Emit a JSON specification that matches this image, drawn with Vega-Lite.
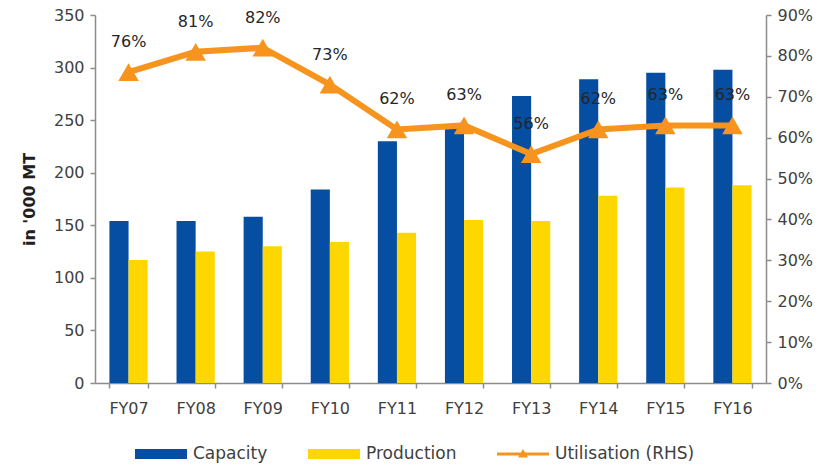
{
  "$schema": "https://vega.github.io/schema/vega-lite/v6.json",
  "width": 671,
  "height": 368,
  "autosize": {"type": "none"},
  "padding": {"left": 95, "top": 15, "right": 69, "bottom": 83},
  "background": "white",
  "config": {
    "view": {"stroke": null},
    "font": "DejaVu Sans",
    "axis": {
      "labelFont": "DejaVu Sans",
      "labelFontSize": 16,
      "labelColor": "#404040",
      "domainColor": "#8c8c8c",
      "domainWidth": 1.5,
      "tickColor": "#8c8c8c",
      "tickWidth": 1.5,
      "tickSize": 5,
      "grid": false
    },
    "legend": {
      "labelFont": "DejaVu Sans",
      "labelFontSize": 17,
      "labelColor": "#404040"
    }
  },
  "data": {
    "values": [
      {"fy": "FY07", "Capacity": 154, "Production": 117, "util": 0.76},
      {"fy": "FY08", "Capacity": 154, "Production": 125, "util": 0.81},
      {"fy": "FY09", "Capacity": 158, "Production": 130, "util": 0.82},
      {"fy": "FY10", "Capacity": 184, "Production": 134, "util": 0.73},
      {"fy": "FY11", "Capacity": 230, "Production": 143, "util": 0.62},
      {"fy": "FY12", "Capacity": 245, "Production": 155, "util": 0.63},
      {"fy": "FY13", "Capacity": 273, "Production": 154, "util": 0.56},
      {"fy": "FY14", "Capacity": 289, "Production": 178, "util": 0.62},
      {"fy": "FY15", "Capacity": 295, "Production": 186, "util": 0.63},
      {"fy": "FY16", "Capacity": 298, "Production": 188, "util": 0.63}
    ]
  },
  "encoding": {
    "x": {
      "field": "fy",
      "type": "nominal",
      "sort": null,
      "scale": {"paddingInner": 0.43, "paddingOuter": 0.215},
      "axis": {"title": null, "labelAngle": 0, "labelPadding": 12, "tickBand": "extent", "labelColor": "#404040"}
    }
  },
  "layer": [
    {
      "transform": [{"fold": ["Capacity", "Production"], "as": ["series", "value"]}],
      "mark": {"type": "bar"},
      "encoding": {
        "xOffset": {"field": "series", "type": "nominal", "scale": {"paddingInner": 0, "paddingOuter": 0}},
        "y": {
          "field": "value",
          "type": "quantitative",
          "scale": {"domain": [0, 350]},
          "axis": {
            "title": "in '000 MT",
            "titleFont": "DejaVu Sans",
            "titleFontSize": 16,
            "titleFontWeight": "bold",
            "titleColor": "#202020",
            "titlePadding": 16,
            "values": [0, 50, 100, 150, 200, 250, 300, 350],
            "labelPadding": 6
          }
        },
        "color": {
          "field": "series",
          "type": "nominal",
          "scale": {
            "domain": ["Capacity", "Production", "Utilisation (RHS)"],
            "range": ["#054EA2", "#FFD700", "#F7941D"]
          },
          "legend": {
            "title": null,
            "orient": "none",
            "legendX": 56,
            "legendY": 429,
            "direction": "horizontal",
            "columns": 3,
            "columnPadding": 40,
            "labelOffset": 22,
            "symbolSize": 400,
            "symbolStrokeWidth": 0,
            "encode": {
              "symbols": {
                "update": {
                  "shape": {"signal": "datum.value === 'Utilisation (RHS)' ? 'M-2.6,-0.15H2.6V0.15H-2.6Z M-0.5,0.35L0,-0.5L0.5,0.35Z' : 'M-2.6,-0.5H2.6V0.5H-2.6Z'"},
                  "strokeWidth": {"value": 0}
                }
              }
            }
          }
        }
      }
    },
    {
      "layer": [
        {
          "mark": {"type": "line", "strokeWidth": 6, "color": "#F7941D"},
          "encoding": {
            "y": {
              "field": "util",
              "type": "quantitative",
              "scale": {"domain": [0, 0.9]},
              "axis": {
                "orient": "right",
                "title": null,
                "format": ".0%",
                "values": [0, 0.1, 0.2, 0.3, 0.4, 0.5, 0.6, 0.7, 0.8, 0.9],
                "labelPadding": 6
              }
            }
          }
        },
        {
          "mark": {"type": "point", "shape": "triangle-up", "filled": true, "opacity": 1, "size": 420, "color": "#F7941D"},
          "encoding": {"y": {"field": "util", "type": "quantitative"}}
        },
        {
          "mark": {"type": "text", "dy": -30, "fontSize": 16, "color": "#262626", "font": "DejaVu Sans"},
          "encoding": {
            "y": {"field": "util", "type": "quantitative"},
            "text": {"field": "util", "type": "quantitative", "format": ".0%"}
          }
        }
      ]
    }
  ],
  "resolve": {"scale": {"y": "independent"}}
}
